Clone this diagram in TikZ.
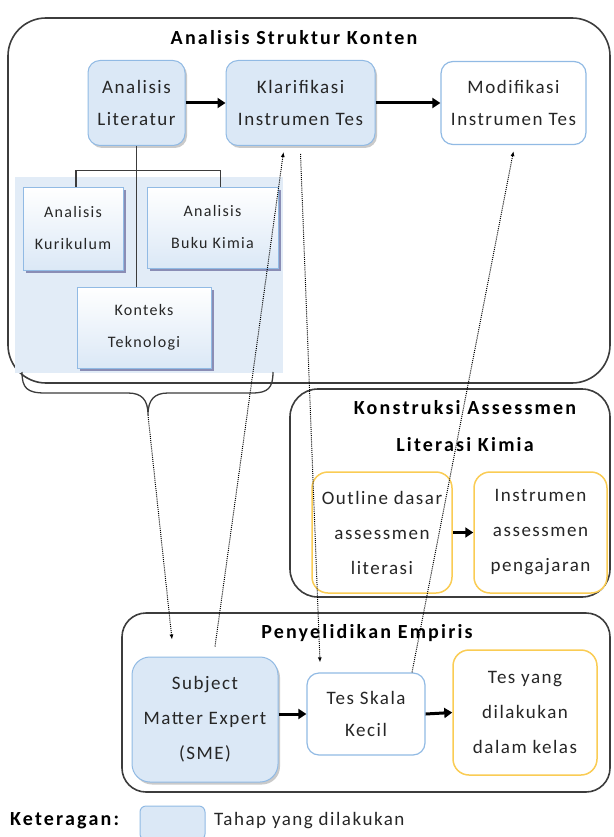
\documentclass[tikz,border=0pt]{standalone}
\usepackage{fontspec}
\setmainfont{Carlito}[LetterSpace=8]
\newfontfamily\ttlfont{Carlito}[LetterSpace=11]
\usetikzlibrary{arrows.meta,shadows,calc}
\definecolor{lb}{RGB}{219,232,246}
\definecolor{bgb}{RGB}{226,236,247}
\definecolor{bb}{RGB}{145,186,228}
\definecolor{yb}{RGB}{250,204,84}
\definecolor{fr}{RGB}{60,60,60}
\begin{document}
\begin{tikzpicture}[x=1pt,y=-1pt,
  txt/.style={font=\fontsize{19}{32}\selectfont, align=center, text=black!85},
  ttl/.style={font=\ttlfont\fontsize{20}{37}\selectfont\bfseries, align=center},
  frame/.style={draw=fr, line width=1.6pt},
  shad/.style={drop shadow={shadow xshift=2pt, shadow yshift=-2.5pt, fill=gray!70, opacity=.6}},
  bluebox/.style={txt, draw=bb, fill=lb, rounded corners=12pt, line width=1pt, shad, inner sep=0pt},
  smallbox/.style={txt, font=\fontsize{16}{32}\selectfont, draw=bb, top color=white, bottom color=lb, line width=1pt, inner sep=0pt,
     drop shadow={shadow xshift=2.5pt, shadow yshift=-3pt, fill=gray!80!blue, opacity=.7}},
  whitebox/.style={txt, draw=bb, fill=white, rounded corners=12pt, line width=1.2pt, inner sep=0pt},
  yellowbox/.style={txt, font=\fontsize{19}{35}\selectfont, draw=yb, fill=white, rounded corners=16pt, line width=1.5pt, inner sep=0pt},
  bigarrow/.style={line width=3pt, -{Triangle[length=8pt,width=10pt]}},
  dotarrow/.style={line width=1pt, dash pattern=on 1pt off 1.1pt, -{Latex[length=5pt,width=4pt]}}
]
\useasboundingbox (0,0) rectangle (613,837);

% --- Analisis Struktur Konten ---
\draw[frame, rounded corners=38pt] (8,18) rectangle (610,383);
\node[ttl] (t1) at (294,38) {Analisis Struktur Konten};
\fill[bgb] (15,177) rectangle (283,373);

\node[bluebox, minimum width=97pt, minimum height=85pt] (lit) at (136.5,103) {Analisis\\Literatur};
\node[bluebox, minimum width=149pt, minimum height=85pt] (klar) at (300.5,103) {Klarifikasi\\Instrumen Tes};
\node[whitebox, minimum width=145pt, minimum height=83pt] (mod) at (513.5,103) {Modifikasi\\Instrumen Tes};

\node[smallbox, minimum width=100pt, minimum height=83pt] (kur) at (73,228.5) {Analisis\\Kurikulum};
\node[smallbox, minimum width=131pt, minimum height=81pt] (buku) at (212.5,227.5) {Analisis\\Buku Kimia};
\node[smallbox, minimum width=134pt, minimum height=81pt] (kont) at (144,327.5) {Konteks\\Teknologi};

\draw[fr, line width=1.2pt] ([xshift=3pt]kur.north) -- ++(0,-16) -| ([xshift=8pt]buku.north);
\draw[fr, line width=1.2pt] (lit.south) -- (lit.south |- kont.north);

\draw[bigarrow] (lit.east) -- (klar.west);
\draw[bigarrow] (klar.east) -- (mod.west);

% brace
\coordinate (btip) at (148,415);
\draw[fr, line width=1.3pt] (22,372) .. controls (22,388) and (27,393) .. (45,393) -- (128,393)
  .. controls (142,393) and (148,400) .. (btip)
  .. controls (148,400) and (154,393) .. (168,393) -- (252,393)
  .. controls (268,393) and (273,388) .. (273,372);

% --- Konstruksi Assessmen Literasi Kimia ---
\draw[frame, rounded corners=28pt] (290,389) rectangle (610,597);
\node[ttl] (t2) at (465,426.5) {Konstruksi Assessmen\\Literasi Kimia};
\node[yellowbox, minimum width=140pt, minimum height=121pt] (outl) at (382,532.5) {Outline dasar\\assessmen\\literasi};
\node[yellowbox, minimum width=133pt, minimum height=121pt] (instr) at (540.5,532.5) {Instrumen\\assessmen\\pengajaran};
\draw[bigarrow] (outl.east) -- (instr.west);

% --- Penyelidikan Empiris ---
\draw[frame, rounded corners=24pt] (122,613) rectangle (610,792);
\node[ttl] (t3) at (367,633) {Penyelidikan Empiris};
\node[bluebox, font=\fontsize{19}{35}\selectfont, rounded corners=18pt, minimum width=146pt, minimum height=125pt] (sme) at (205,719.5) {Subject\\Matter Expert\\(SME)};
\node[whitebox, minimum width=118pt, minimum height=82pt] (tes) at (366,714) {Tes Skala\\Kecil};
\node[yellowbox, minimum width=144pt, minimum height=125pt] (yang) at (525,712.5) {Tes yang\\dilakukan\\dalam kelas};
\draw[bigarrow] (sme.east |- tes.west) -- (tes.west);
\draw[bigarrow] (tes.east) -- (yang.west);

% dotted connectors
\draw[dotarrow] (btip) -- ([xshift=-33pt,yshift=17pt]sme.north);
\draw[dotarrow] ([xshift=10pt,yshift=10pt]sme.north) -- ([xshift=-17pt,yshift=-6pt]klar.south);
\draw[dotarrow] ([yshift=-8pt]klar.south) -- ([xshift=-46pt,yshift=10pt]tes.north);
\draw[dotarrow] ([xshift=46pt]tes.north) -- ([yshift=-6pt]mod.south);

% legend
\node[ttl, anchor=west, inner sep=0pt] (ket) at (10,821) {Keteragan:};
\node[draw=bb, fill=lb, rounded corners=6pt, line width=1pt, minimum width=65pt, minimum height=34pt] (leg) at (172.5,823) {};
\node[txt, anchor=west, inner sep=0pt] (legt) at (214,821) {Tahap yang dilakukan};
\end{tikzpicture}
\end{document}
